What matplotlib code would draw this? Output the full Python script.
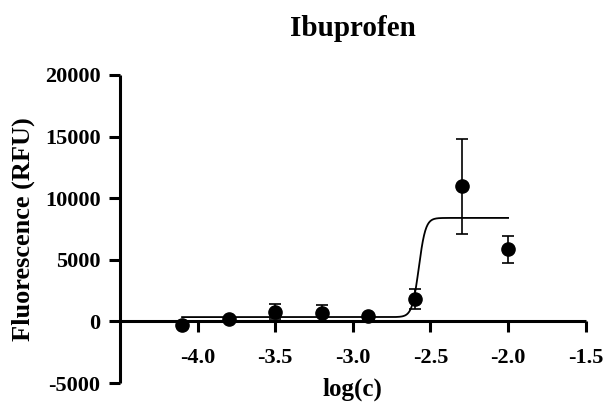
import numpy as np
import matplotlib
matplotlib.use("Agg")
import matplotlib.pyplot as plt

plt.rcParams["font.family"] = ["Liberation Serif", "DejaVu Serif"]
plt.rcParams["font.weight"] = "bold"
plt.rcParams["axes.unicode_minus"] = False

# Measured points (mean ± SD)
log_c = [-4.1, -3.8, -3.5, -3.2, -2.9, -2.6, -2.3, -2.0]
rfu_mean = [-300, 220, 790, 650, 430, 1780, 10960, 5840]
rfu_sd = [0, 0, 600, 650, 0, 810, 3850, 1100]

# Sigmoidal dose-response fit parameters
fit_bottom = 350
fit_top = 8400
fit_logec50 = -2.575
fit_hill = 20

x_ticks = [-4.0, -3.5, -3.0, -2.5, -2.0, -1.5]
x_tick_labels = ["-4.0", "-3.5", "-3.0", "-2.5", "-2.0", "-1.5"]
y_ticks = [-5000, 0, 5000, 10000, 15000, 20000]
y_tick_labels = ["-5000", "0", "5000", "10000", "15000", "20000"]

fig = plt.figure(figsize=(6.06, 4.03), dpi=100)
ax = fig.add_axes([0.198, 0.0496, 0.7685, 0.7643])

xf = np.linspace(min(log_c), max(log_c), 800)
yf = fit_bottom + (fit_top - fit_bottom) / (1 + 10 ** ((fit_logec50 - xf) * fit_hill))
ax.plot(xf, yf, color="black", lw=1.3, zorder=2)

ax.errorbar(log_c, rfu_mean, yerr=rfu_sd, fmt="o", color="black", ms=9.5,
            ecolor="black", elinewidth=1.2, capsize=4.3, capthick=1.2, zorder=3)

ax.set_xlim(-4.5, -1.5)
ax.set_ylim(-5000, 20000)
ax.spines["top"].set_visible(False)
ax.spines["right"].set_visible(False)
ax.spines["bottom"].set_position(("data", 0))
for s in ("left", "bottom"):
    ax.spines[s].set_linewidth(2.2)
    ax.spines[s].set_capstyle("butt")

ax.set_xticks(x_ticks, x_tick_labels)
ax.set_yticks(y_ticks, y_tick_labels)
ax.tick_params(axis="both", direction="out", length=8, width=2.2,
               labelsize=16, pad=6)
ax.tick_params(axis="x", pad=11)
for lab in ax.get_xticklabels() + ax.get_yticklabels():
    lab.set_fontweight("bold")

ax.set_title("Ibuprofen", fontsize=21, fontweight="bold", pad=28)
ax.set_ylabel("Fluorescence (RFU)", fontsize=19, fontweight="bold", labelpad=7)
ax.set_xlabel("log(c)", fontsize=18, fontweight="bold", labelpad=7)

fig.savefig("out.png", dpi=100)
